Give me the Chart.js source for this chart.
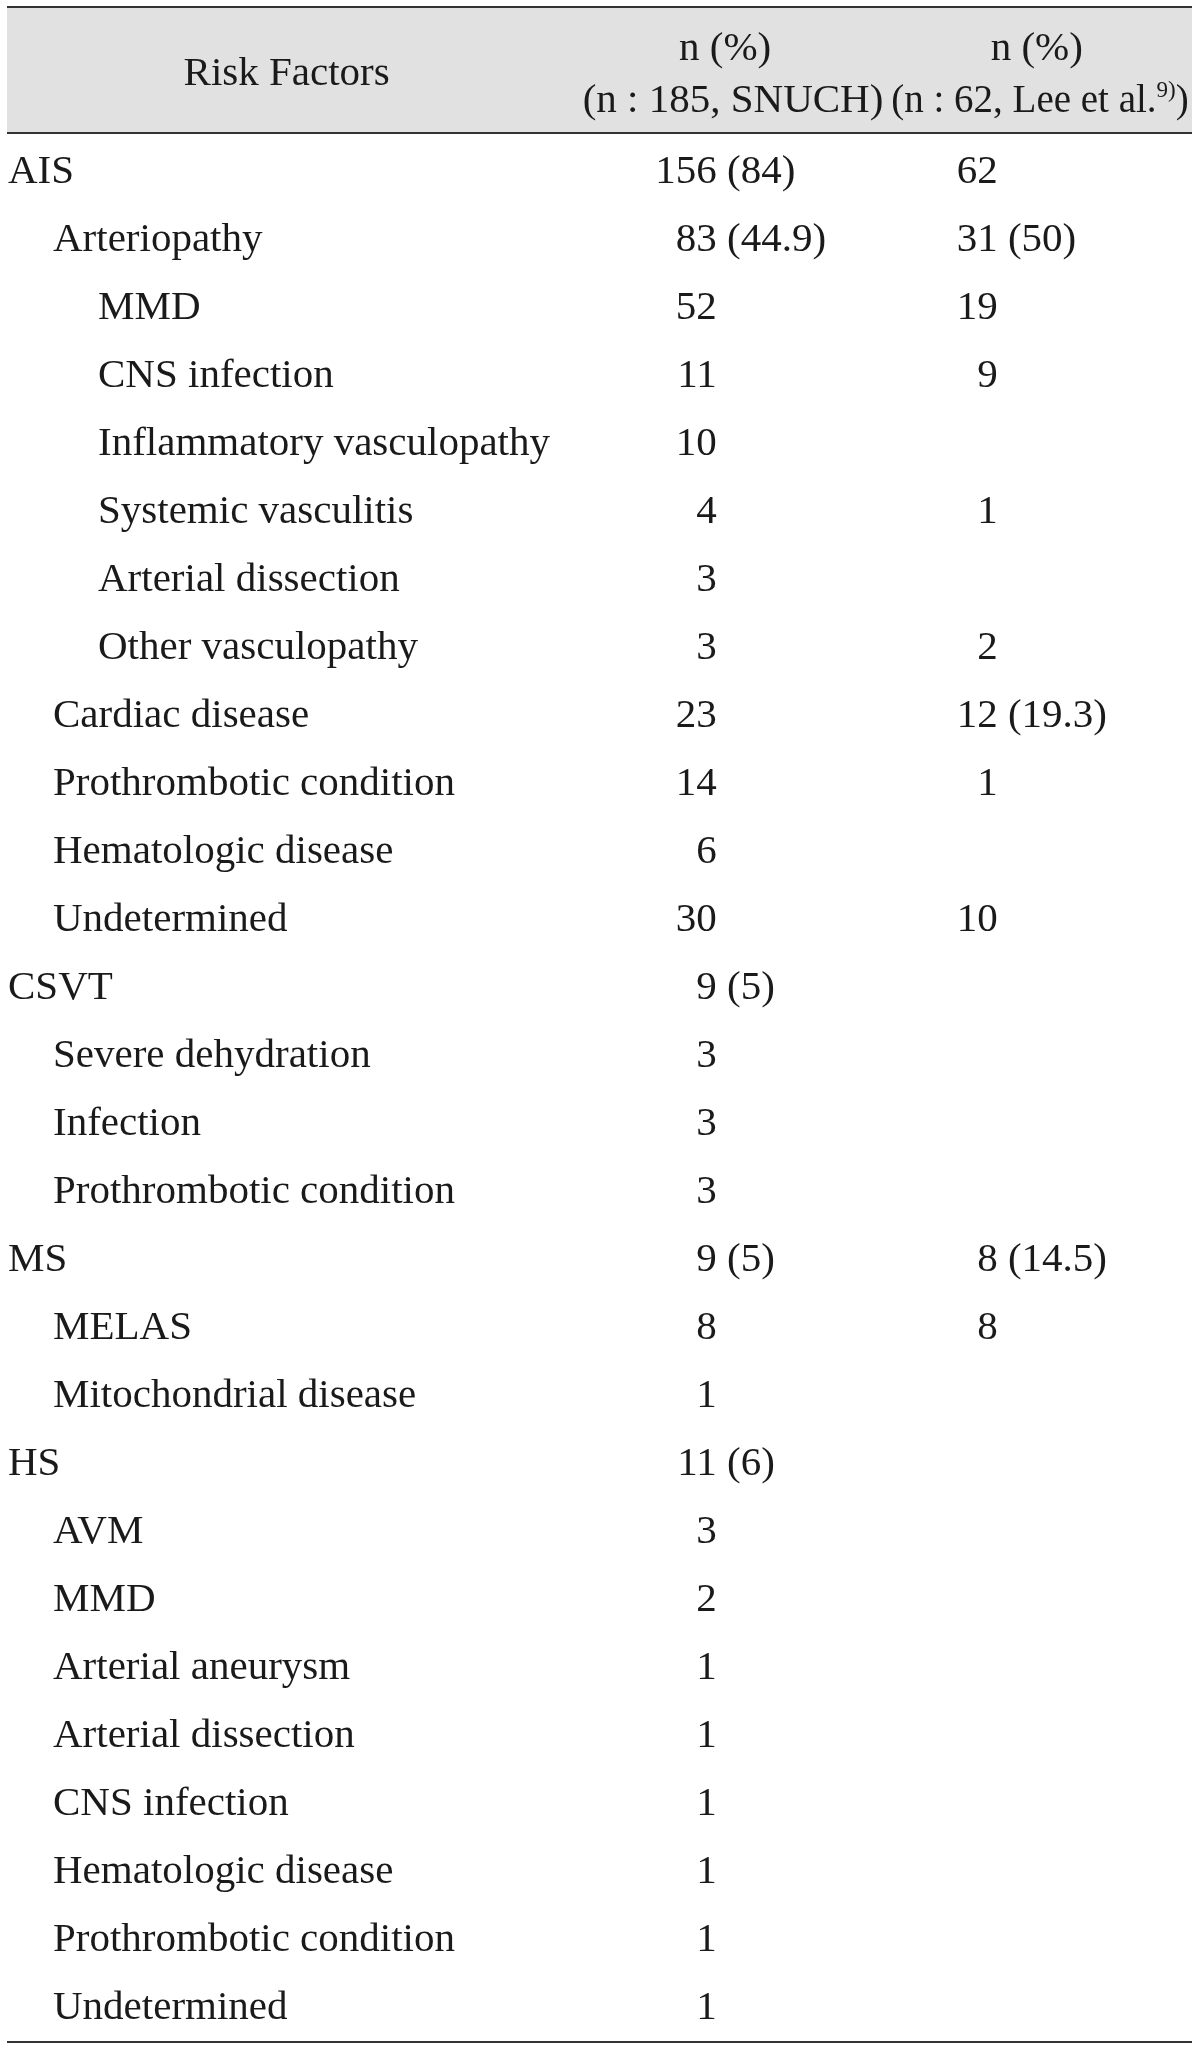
<!DOCTYPE html>
<html>
<head>
<meta charset="utf-8">
<title>Risk Factors</title>
<script src="https://cdn.jsdelivr.net/npm/chart.js@4.4.1/dist/chart.umd.min.js"></script>
<style>
  html, body { margin: 0; padding: 0; background: #fff; overflow: hidden; }
  #wrap { position: relative; width: 1200px; height: 2051px; }
</style>
</head>
<body>
<div id="wrap"><canvas id="table"></canvas></div>
<script>
/* ── Data ── */
var rowLabels = [
  "AIS", "Arteriopathy", "MMD", "CNS infection", "Inflammatory vasculopathy",
  "Systemic vasculitis", "Arterial dissection", "Other vasculopathy",
  "Cardiac disease", "Prothrombotic condition", "Hematologic disease", "Undetermined",
  "CSVT", "Severe dehydration", "Infection", "Prothrombotic condition",
  "MS", "MELAS", "Mitochondrial disease",
  "HS", "AVM", "MMD", "Arterial aneurysm", "Arterial dissection", "CNS infection",
  "Hematologic disease", "Prothrombotic condition", "Undetermined"
];
var rowLevels = [0, 1, 2, 2, 2, 2, 2, 2, 1, 1, 1, 1, 0, 1, 1, 1, 0, 1, 1, 0, 1, 1, 1, 1, 1, 1, 1, 1];
var snuchN   = [156, 83, 52, 11, 10, 4, 3, 3, 23, 14, 6, 30, 9, 3, 3, 3, 9, 8, 1, 11, 3, 2, 1, 1, 1, 1, 1, 1];
var snuchPct = [84, 44.9, null, null, null, null, null, null, null, null, null, null, 5, null, null, null, 5, null, null, 6, null, null, null, null, null, null, null, null];
var leeN     = [62, 31, 19, 9, null, 1, null, 2, 12, 1, null, 10, null, null, null, null, 8, 8, null, null, null, null, null, null, null, null, null, null];
var leePct   = [null, 50, null, null, null, null, null, null, 19.3, null, null, null, null, null, null, null, 14.5, null, null, null, null, null, null, null, null, null, null, null];
var headerFirst = ["Risk Factors", "n (%)", "n (%)"];
var headerSecond = ["", "(n : 185, SNUCH)", "(n : 62, Lee et al."];
var headerSup = ["", "", "9)"];

(function () {
  "use strict";

  /* ── Layout / style ── */
  var FAMILY = "'Liberation Serif', 'Times New Roman', serif";
  var FONT = "41px " + FAMILY;
  var SUP_FONT = "23px " + FAMILY;
  var TEXT = "#1a1a1a";
  var RULE = "#333333";
  var HEAD_BG = "#e1e1e1";
  var colAnchor = [0, 0.599, 0.836];        // x fraction: label start, number right edge
  var headCenter1 = [0.236, 0.606, 0.869];  // x fraction: header line 1 centres
  var headCenter2 = [0.236, 0.6127, 0.8717];// x fraction: header line 2 centres
  var headSize2 = [41, 41, 39];
  var INDENT = 45;
  var BASELINE = 16;

  function cellText(n, pct) {
    if (n == null) return null;
    return { n: String(n), pct: pct == null ? "" : " (" + pct + ")" };
  }

  function columnData(anchor) {
    return rowLabels.map(function (_, i) { return { x: anchor, y: i }; });
  }

  /* ── Table painter ── */
  var tablePlugin = {
    id: "tablePainter",
    beforeDatasetsDraw: function (chart) {
      var ctx = chart.ctx;
      var area = chart.chartArea;
      var xs = chart.scales.x;
      var headTop = area.top - 126;

      ctx.save();
      ctx.fillStyle = HEAD_BG;
      ctx.fillRect(area.left, headTop, area.right - area.left, area.top - headTop);

      ctx.fillStyle = RULE;
      ctx.fillRect(area.left, headTop - 1, area.right - area.left, 2);
      ctx.fillRect(area.left, area.top - 1, area.right - area.left, 2);
      ctx.fillRect(area.left, area.bottom + 4, area.right - area.left, 2);

      ctx.fillStyle = TEXT;
      ctx.textBaseline = "alphabetic";
      headerFirst.forEach(function (h, c) {
        ctx.font = FONT;
        ctx.textAlign = "center";
        var cx1 = xs.getPixelForValue(headCenter1[c]);
        var cx2 = xs.getPixelForValue(headCenter2[c]);
        if (!headerSecond[c]) {
          ctx.fillText(h, cx1, area.top - 48);
          return;
        }
        ctx.fillText(h, cx1, area.top - 73);

        var font2 = headSize2[c] + "px " + FAMILY;
        var main = headerSecond[c];
        var sup = headerSup[c];
        ctx.font = font2;
        if (!sup) {
          ctx.fillText(main, cx2, area.top - 21);
          return;
        }
        var wMain = ctx.measureText(main).width;
        var wClose = ctx.measureText(")").width;
        ctx.font = SUP_FONT;
        var wSup = ctx.measureText(sup).width;
        var start = cx2 - (wMain + wSup + wClose) / 2;
        ctx.textAlign = "left";
        ctx.font = font2;
        ctx.fillText(main, start, area.top - 21);
        ctx.font = SUP_FONT;
        ctx.fillText(sup, start + wMain, area.top - 36);
        ctx.font = font2;
        ctx.fillText(")", start + wMain + wSup, area.top - 21);
      });
      ctx.restore();
    },
    afterDatasetsDraw: function (chart) {
      var ctx = chart.ctx;
      ctx.save();
      ctx.fillStyle = TEXT;
      ctx.font = FONT;
      ctx.textBaseline = "alphabetic";

      chart.data.datasets.forEach(function (ds, d) {
        var meta = chart.getDatasetMeta(d);
        meta.data.forEach(function (el, i) {
          var y = el.y + BASELINE;
          if (ds.kind === "label") {
            ctx.textAlign = "left";
            ctx.fillText(rowLabels[i], el.x + 1 + rowLevels[i] * INDENT, y);
            return;
          }
          var cell = ds.cells[i];
          if (!cell) return;
          ctx.textAlign = "right";
          ctx.fillText(cell.n, el.x, y);
          if (cell.pct) {
            ctx.textAlign = "left";
            ctx.fillText(cell.pct, el.x, y);
          }
        });
      });
      ctx.restore();
    }
  };

  /* ── Chart ── */
  var ctx = document.getElementById("table").getContext("2d");
  new Chart(ctx, {
    type: "scatter",
    data: {
      datasets: [
        { label: "Risk Factors", kind: "label", data: columnData(colAnchor[0]) },
        {
          label: "SNUCH", kind: "num", data: columnData(colAnchor[1]),
          cells: snuchN.map(function (n, i) { return cellText(n, snuchPct[i]); })
        },
        {
          label: "Lee et al.", kind: "num", data: columnData(colAnchor[2]),
          cells: leeN.map(function (n, i) { return cellText(n, leePct[i]); })
        }
      ]
    },
    options: {
      responsive: true,
      maintainAspectRatio: false,
      animation: false,
      devicePixelRatio: 1,
      layout: { padding: { top: 133, bottom: 14, left: 7, right: 8 } },
      elements: { point: { radius: 0, hoverRadius: 0 } },
      plugins: { legend: { display: false }, tooltip: { enabled: false } },
      events: [],
      scales: {
        x: { type: "linear", min: 0, max: 1, display: false },
        y: { type: "linear", min: -0.5, max: rowLabels.length - 0.5, reverse: true, display: false }
      }
    },
    plugins: [tablePlugin]
  });
})();
</script>
</body>
</html>
